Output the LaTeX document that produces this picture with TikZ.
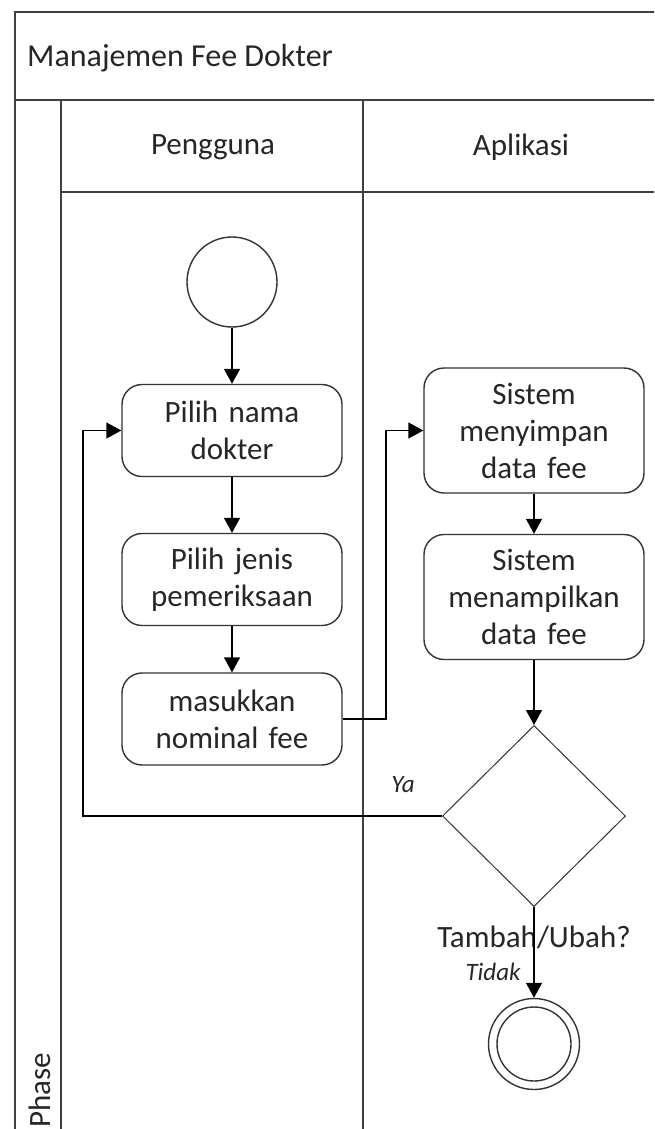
\documentclass[tikz,border=0pt]{standalone}
\usepackage{fontspec}
\setmainfont{Carlito}
\usetikzlibrary{shapes.geometric,arrows.meta}

\begin{document}
\begin{tikzpicture}[x=1pt,y=-1pt,text=black!85,
	lane/.style={draw=black!75,line width=1.6pt},
	head/.style={inner sep=0pt,font=\fontsize{31}{37}\selectfont},
	act/.style={draw=black!80,line width=1.4pt,rounded corners=20pt,minimum width=220pt,minimum height=92pt,inner sep=4pt,text width=210pt,align=center,font=\fontsize{31}{37}\selectfont},
	flow/.style={draw=black,line width=1.4pt,-{Triangle[length=15pt,width=16pt]}},
	guard/.style={inner sep=0pt,font=\fontsize{25}{28}\selectfont\itshape}]
	\useasboundingbox (0,0) rectangle (654,1129);
	\draw[lane] (654,12) -- (15,12) -- (15,1129);
	\draw[lane] (15,100) -- (654,100);
	\draw[lane] (61,100) -- (61,1129);
	\draw[lane] (61,192) -- (654,192);
	\draw[lane] (363,100) -- (363,1129);
	\node[head,anchor=west,font=\fontsize{32}{37}\selectfont] (title) at (27,58) {Manajemen Fee Dokter};
	\node[head] (user) at (213,147) {Pengguna};
	\node[head] (app) at (521,147) {Aplikasi};
	\node[head,rotate=90,anchor=east] (phase) at (40,1053) {Phase};
	\node[circle,draw=black!80,line width=1.4pt,minimum size=90pt] (start) at (232,282) {};
	\node[act] (b1) at (232,430.5) {Pilih nama\\dokter};
	\node[act] (b2) at (232,579.5) {Pilih jenis\\pemeriksaan};
	\node[act] (b3) at (232,719) {masukkan\\nominal fee};
	\node[act,minimum height=125pt] (b4) at (534,430.5) {Sistem\\menyimpan\\data fee};
	\node[act,minimum height=125pt] (b5) at (534,597) {Sistem\\menampilkan\\data fee};
	\node[diamond,draw=black!80,line width=1pt,minimum width=183pt,minimum height=181pt,inner sep=0pt] (dec) at (534,816) {};
	\node[head] (ask) at (534,937) {Tambah/Ubah?};
	\node[circle,draw=black!80,line width=1.4pt,minimum size=91pt] (stop) at (534,1044) {};
	\draw[black!80,line width=1.4pt] (stop.center) circle (37);
	\node[guard] (yes) at (403,785) {Ya};
	\node[guard] (no) at (493,972) {Tidak};
	\coordinate (fork) at (386,0);
	\coordinate (loop) at (83,0);
	\draw[flow] (start) -- (b1);
	\draw[flow] (b1) -- (b2);
	\draw[flow] (b2) -- (b3);
	\draw[flow] (b3.east) -- (b3.east -| fork) |- (b4.west);
	\draw[flow] (b4) -- (b5);
	\draw[flow] (b5) -- (dec);
	\draw[flow] (dec.west) -- (dec.west -| loop) |- (b1.west);
	\draw[flow] (dec) -- (stop);
\end{tikzpicture}
\end{document}
